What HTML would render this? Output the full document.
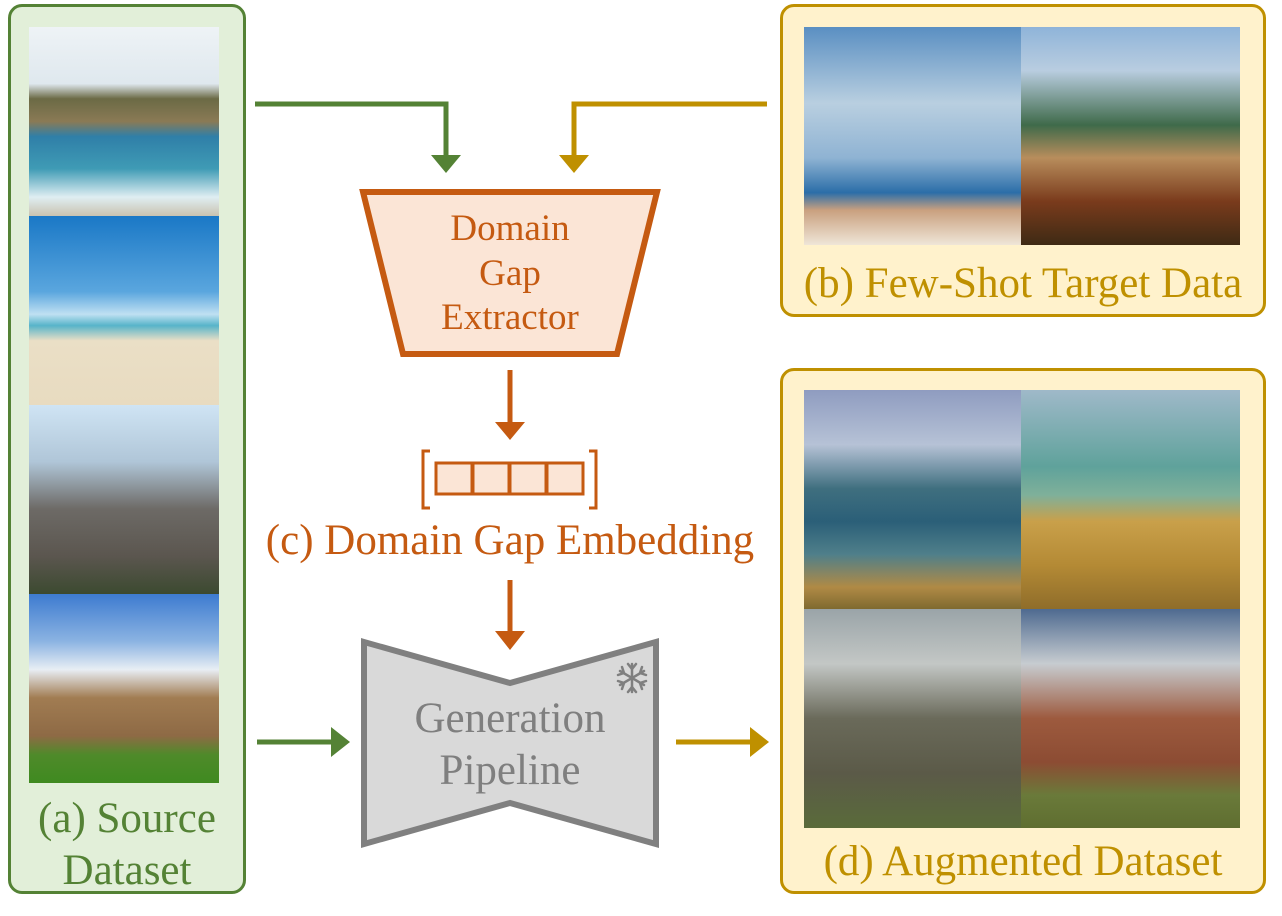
<!DOCTYPE html>
<html><head><meta charset="utf-8"><style>
html,body{margin:0;padding:0;background:#fff;}
body{width:1282px;height:916px;position:relative;overflow:hidden;font-family:"Liberation Serif",serif;}
.abs{position:absolute;}
.box{position:absolute;border-radius:14px;box-sizing:border-box;}
.img{position:absolute;}
.t{position:absolute;text-align:center;white-space:nowrap;}
</style></head><body>
<!-- (a) -->
<div class="box" style="left:8px;top:4px;width:238px;height:890px;background:#e2efd9;border:3px solid #548235;"></div>
<div class="img" style="left:29px;top:27px;width:190px;height:189px;background:linear-gradient(#eef3f6 0%,#dfe8ee 30%,#6b6a45 38%,#8a7a55 50%,#2f7fa8 58%,#3f9bb5 75%,#dfeef2 90%,#c9c2b0 100%);"></div>
<div class="img" style="left:29px;top:216px;width:190px;height:189px;background:linear-gradient(#1a78c6 0%,#5aa6de 40%,#bfe0f2 52%,#57b4c9 58%,#eadfc6 66%,#e8dbc0 100%);"></div>
<div class="img" style="left:29px;top:405px;width:190px;height:189px;background:linear-gradient(#cfe4f4 0%,#b0c6d8 30%,#6d6a66 55%,#5b564f 80%,#3c4a30 100%);"></div>
<div class="img" style="left:29px;top:594px;width:190px;height:189px;background:linear-gradient(#3d7bd0 0%,#8bb3e2 25%,#e8eef4 40%,#a17c52 55%,#8e6a45 75%,#4f8a2a 85%,#3f8a20 100%);"></div>
<div class="t" style="left:8px;width:238px;top:793px;font-size:43px;line-height:52px;color:#548235;">(a) Source<br>Dataset</div>

<!-- (b) -->
<div class="box" style="left:780px;top:4px;width:486px;height:313px;background:#fff2cc;border:3px solid #bf9000;"></div>
<div class="img" style="left:804px;top:27px;width:217px;height:218px;background:linear-gradient(#5a8fc2 0%,#b9cfe0 35%,#8fb3d3 60%,#2b6ea8 76%,#c9a07f 84%,#efe6d8 100%);"></div>
<div class="img" style="left:1021px;top:27px;width:219px;height:218px;background:linear-gradient(#8fb4d9 0%,#b9cde0 20%,#3f6a4a 45%,#b88d5c 60%,#7a3b1c 80%,#3e2a14 100%);"></div>
<div class="t" style="left:780px;width:486px;top:258px;font-size:43px;line-height:52px;color:#bf9000;">(b) Few-Shot Target Data</div>

<!-- (d) -->
<div class="box" style="left:780px;top:368px;width:486px;height:526px;background:#fff2cc;border:3px solid #bf9000;"></div>
<div class="img" style="left:804px;top:390px;width:217px;height:219px;background:linear-gradient(#8f9cc0 0%,#b6c2d6 25%,#3f6f7f 45%,#2b5f78 60%,#4f7f8a 75%,#b08a45 90%,#7f6a30 100%);"></div>
<div class="img" style="left:1021px;top:390px;width:219px;height:219px;background:linear-gradient(#9fb9c9 0%,#5fa29b 35%,#7fb09a 48%,#c9a04a 60%,#b48a35 80%,#8f6d2a 100%);"></div>
<div class="img" style="left:804px;top:609px;width:217px;height:219px;background:linear-gradient(#9aa4a8 0%,#c3c7c5 25%,#6a6a5a 50%,#5b5a48 75%,#5a6b3a 100%);"></div>
<div class="img" style="left:1021px;top:609px;width:219px;height:219px;background:linear-gradient(#4e6a90 0%,#c7ccd0 25%,#9d5a3e 50%,#8c4c33 70%,#6a7a3a 85%,#5f6e30 100%);"></div>
<div class="t" style="left:780px;width:486px;top:836px;font-size:43px;line-height:52px;color:#bf9000;">(d) Augmented Dataset</div>

<svg class="abs" style="left:0;top:0" width="1282" height="916">
<polyline points="255,104 446,104 446,158" fill="none" stroke="#548235" stroke-width="5"/>
<polygon points="431,155 461,155 446,173" fill="#548235"/>
<polyline points="767,104 574,104 574,158" fill="none" stroke="#bf9000" stroke-width="5"/>
<polygon points="559,155 589,155 574,173" fill="#bf9000"/>
<polygon points="363,192 657,192 617,354 403,354" fill="#fbe5d6" stroke="#c55a11" stroke-width="6"/>
<line x1="510" y1="370" x2="510" y2="425" stroke="#c55a11" stroke-width="5"/>
<polygon points="495,422 525,422 510,440" fill="#c55a11"/>
<polyline points="430,451 423,451 423,508 430,508" fill="none" stroke="#c55a11" stroke-width="3"/>
<polyline points="589,451 596,451 596,508 589,508" fill="none" stroke="#c55a11" stroke-width="3"/>
<g fill="#fbe5d6" stroke="#c55a11" stroke-width="3">
<rect x="436" y="463" width="36" height="31"/><rect x="473" y="463" width="36" height="31"/><rect x="510" y="463" width="36" height="31"/><rect x="547" y="463" width="36" height="31"/>
</g>
<line x1="510" y1="580" x2="510" y2="634" stroke="#c55a11" stroke-width="5"/>
<polygon points="495,631 525,631 510,650" fill="#c55a11"/>
<polygon points="364,642 510,683 656,642 656,844 510,803 364,844" fill="#d9d9d9" stroke="#808080" stroke-width="6"/>
<line x1="257" y1="742" x2="333" y2="742" stroke="#548235" stroke-width="5"/>
<polygon points="331,727 350,742 331,757" fill="#548235"/>
<line x1="676" y1="742" x2="752" y2="742" stroke="#bf9000" stroke-width="5"/>
<polygon points="750,727 769,742 750,757" fill="#bf9000"/>
<g stroke="#7f7f7f" stroke-width="2.5" stroke-linecap="round" transform="translate(632,678)">
<line x1="0" y1="-14" x2="0" y2="14"/>
<line x1="-12" y1="-7" x2="12" y2="7"/>
<line x1="-12" y1="7" x2="12" y2="-7"/>
<polyline points="-4,-14 0,-9 4,-14" fill="none"/>
<polyline points="-4,14 0,9 4,14" fill="none"/>
<polyline points="-14,-3 -8,-5 -10,-11" fill="none"/>
<polyline points="14,3 8,5 10,11" fill="none"/>
<polyline points="-14,3 -8,5 -10,11" fill="none"/>
<polyline points="14,-3 8,-5 10,-11" fill="none"/>
</g>
</svg>
<div class="t" style="left:360px;width:300px;top:207px;font-size:37px;line-height:44.5px;color:#c55a11;">Domain<br>Gap<br>Extractor</div>
<div class="t" style="left:160px;width:700px;top:515px;font-size:43px;line-height:52px;color:#c55a11;">(c) Domain Gap Embedding</div>
<div class="t" style="left:360px;width:300px;top:693px;font-size:43px;line-height:52px;color:#7f7f7f;">Generation<br>Pipeline</div>
</body></html>
